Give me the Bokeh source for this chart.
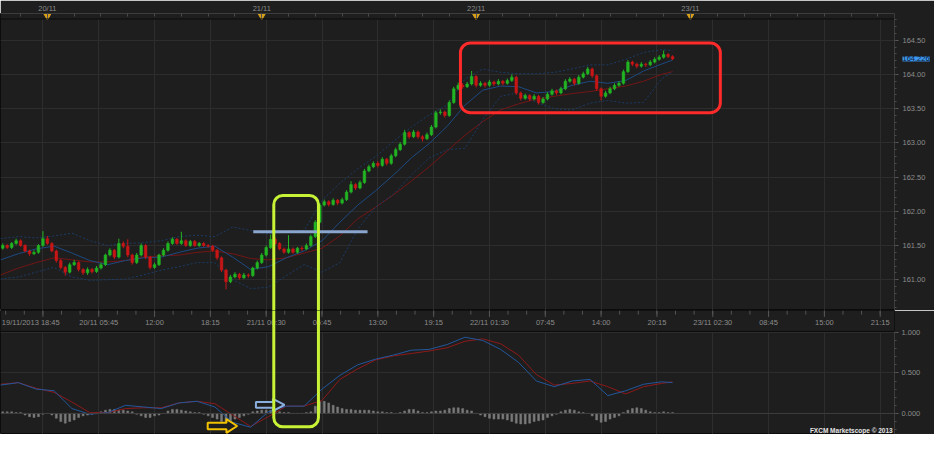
import numpy as np
import pandas as pd
from bokeh.plotting import figure
from bokeh.layouts import column
from bokeh.models import (Range1d, FixedTicker, BoxAnnotation, Label, Span, LinearAxis,
                          ColumnDataSource, NumeralTickFormatter)
from bokeh.core.properties import value
from bokeh.embed import file_html
from bokeh.resources import INLINE

# ------------------------------------------------------------------ data
chart_start = "2013-11-19 18:45"
first_bar = "2013-11-19 19:00"          # 30-minute bars

opens = [
    161.46, 161.50, 161.47, 161.53, 161.57, 161.50, 161.42, 161.38, 161.40, 161.50,
    161.60, 161.53, 161.42, 161.28, 161.18, 161.11, 161.22, 161.25, 161.15, 161.10,
    161.15, 161.12, 161.17, 161.22, 161.36, 161.43, 161.33, 161.53, 161.49, 161.36,
    161.25, 161.36, 161.50, 161.33, 161.18, 161.22, 161.36, 161.43, 161.53, 161.59,
    161.53, 161.57, 161.50, 161.56, 161.50, 161.53, 161.50, 161.49, 161.43, 161.32,
    161.14, 160.97, 161.04, 161.08, 161.03, 161.07, 161.06, 161.17, 161.25, 161.36,
    161.47, 161.59, 161.53, 161.45, 161.40, 161.45, 161.40, 161.46, 161.45, 161.50,
    161.63, 161.84, 162.09, 162.14, 162.10, 162.16, 162.12, 162.17, 162.28, 162.39,
    162.34, 162.42, 162.59, 162.65, 162.70, 162.67, 162.76, 162.70, 162.81, 162.90,
    162.98, 163.15, 163.09, 163.16, 163.09, 163.06, 163.12, 163.23, 163.44, 163.45,
    163.40, 163.59, 163.79, 163.84, 163.82, 163.86, 163.97, 163.84, 163.87, 163.84,
    163.89, 163.86, 163.90, 163.87, 163.91, 163.96, 163.73, 163.65, 163.69, 163.64,
    163.68, 163.59, 163.64, 163.71, 163.76, 163.73, 163.79, 163.90, 163.93, 163.87,
    163.96, 164.01, 164.08, 163.98, 163.79, 163.68, 163.73, 163.79, 163.84, 163.87,
    164.04, 164.18, 164.15, 164.12, 164.15, 164.14, 164.18, 164.22, 164.25, 164.29,
    164.26]
highs = [
    161.53, 161.52, 161.55, 161.60, 161.59, 161.52, 161.44, 161.43, 161.52, 161.71,
    161.64, 161.55, 161.44, 161.30, 161.20, 161.25, 161.29, 161.27, 161.17, 161.18,
    161.17, 161.20, 161.25, 161.38, 161.46, 161.45, 161.60, 161.56, 161.59, 161.38,
    161.39, 161.53, 161.52, 161.35, 161.25, 161.38, 161.46, 161.56, 161.62, 161.61,
    161.70, 161.59, 161.58, 161.58, 161.55, 161.55, 161.52, 161.51, 161.45, 161.34,
    161.16, 161.07, 161.11, 161.10, 161.10, 161.09, 161.19, 161.28, 161.39, 161.50,
    161.66, 161.62, 161.55, 161.47, 161.65, 161.47, 161.48, 161.49, 161.53, 161.66,
    161.87, 162.12, 162.17, 162.16, 162.19, 162.18, 162.20, 162.31, 162.44, 162.41,
    162.45, 162.62, 162.68, 162.73, 162.73, 162.79, 162.78, 162.84, 162.93, 163.01,
    163.19, 163.17, 163.19, 163.18, 163.11, 163.15, 163.26, 163.47, 163.49, 163.47,
    163.62, 163.82, 163.88, 163.87, 163.89, 164.05, 163.99, 163.90, 163.89, 163.92,
    163.91, 163.93, 163.92, 163.94, 164.00, 163.98, 163.75, 163.72, 163.71, 163.71,
    163.70, 163.67, 163.74, 163.79, 163.78, 163.82, 163.93, 163.96, 163.95, 163.99,
    164.04, 164.11, 164.10, 164.00, 163.81, 163.76, 163.82, 163.87, 163.90, 164.07,
    164.21, 164.20, 164.17, 164.18, 164.17, 164.21, 164.25, 164.28, 164.35, 164.31,
    164.28]
lows = [
    161.44, 161.45, 161.45, 161.51, 161.48, 161.40, 161.35, 161.36, 161.38, 161.48,
    161.51, 161.40, 161.25, 161.15, 161.06, 161.09, 161.20, 161.12, 161.07, 161.07,
    161.09, 161.10, 161.15, 161.20, 161.34, 161.30, 161.31, 161.46, 161.33, 161.22,
    161.23, 161.34, 161.30, 161.15, 161.16, 161.20, 161.34, 161.41, 161.51, 161.51,
    161.51, 161.48, 161.48, 161.48, 161.48, 161.48, 161.47, 161.41, 161.29, 161.11,
    160.86, 160.95, 161.02, 161.00, 161.01, 161.03, 161.04, 161.15, 161.23, 161.34,
    161.45, 161.51, 161.43, 161.38, 161.38, 161.38, 161.38, 161.42, 161.43, 161.48,
    161.61, 161.82, 162.07, 162.07, 162.08, 162.09, 162.10, 162.15, 162.26, 162.31,
    162.32, 162.40, 162.57, 162.63, 162.64, 162.65, 162.67, 162.68, 162.79, 162.88,
    162.96, 163.06, 163.07, 163.06, 163.02, 163.04, 163.10, 163.21, 163.41, 163.37,
    163.38, 163.57, 163.77, 163.79, 163.80, 163.84, 163.81, 163.82, 163.81, 163.82,
    163.83, 163.84, 163.84, 163.85, 163.89, 163.70, 163.62, 163.63, 163.61, 163.62,
    163.56, 163.57, 163.62, 163.69, 163.70, 163.71, 163.77, 163.88, 163.84, 163.85,
    163.94, 163.99, 163.95, 163.76, 163.62, 163.66, 163.71, 163.77, 163.82, 163.85,
    164.02, 164.12, 164.09, 164.10, 164.11, 164.12, 164.16, 164.20, 164.23, 164.24,
    164.21]
closes = [
    161.50, 161.47, 161.53, 161.57, 161.50, 161.42, 161.38, 161.40, 161.50, 161.60,
    161.53, 161.42, 161.28, 161.18, 161.11, 161.22, 161.25, 161.15, 161.10, 161.15,
    161.12, 161.17, 161.22, 161.36, 161.43, 161.33, 161.53, 161.49, 161.36, 161.25,
    161.36, 161.50, 161.33, 161.18, 161.22, 161.36, 161.43, 161.53, 161.59, 161.53,
    161.57, 161.50, 161.56, 161.50, 161.53, 161.50, 161.49, 161.43, 161.32, 161.14,
    160.97, 161.04, 161.08, 161.03, 161.07, 161.06, 161.17, 161.25, 161.36, 161.47,
    161.59, 161.53, 161.45, 161.40, 161.45, 161.40, 161.46, 161.45, 161.50, 161.63,
    161.84, 162.09, 162.14, 162.10, 162.16, 162.12, 162.17, 162.28, 162.39, 162.34,
    162.42, 162.59, 162.65, 162.70, 162.67, 162.76, 162.70, 162.81, 162.90, 162.98,
    163.15, 163.09, 163.16, 163.09, 163.06, 163.12, 163.23, 163.44, 163.45, 163.40,
    163.59, 163.79, 163.84, 163.82, 163.86, 163.97, 163.84, 163.87, 163.84, 163.89,
    163.86, 163.90, 163.87, 163.91, 163.96, 163.73, 163.65, 163.69, 163.64, 163.68,
    163.59, 163.64, 163.71, 163.76, 163.73, 163.79, 163.90, 163.93, 163.87, 163.96,
    164.01, 164.08, 163.98, 163.79, 163.68, 163.73, 163.79, 163.84, 163.87, 164.04,
    164.18, 164.15, 164.12, 164.15, 164.14, 164.18, 164.22, 164.25, 164.29, 164.26,
    164.226]
histogram = [
    0.02, 0.02, 0.02, 0.01, 0.01, -0.02, -0.04, -0.05, -0.04, -0.01,
    0.00, -0.02, -0.06, -0.10, -0.12, -0.10, -0.08, -0.05, -0.03, -0.02,
    -0.01, 0.01, 0.02, 0.04, 0.05, 0.05, 0.04, 0.04, 0.03, 0.02,
    -0.01, -0.03, -0.05, -0.05, -0.03, -0.02, 0.00, 0.03, 0.05, 0.05,
    0.04, 0.03, 0.02, 0.01, 0.01, -0.01, -0.03, -0.05, -0.07, -0.10,
    -0.10, -0.09, -0.07, -0.05, -0.03, -0.01, 0.02, 0.03, 0.04, 0.04,
    0.04, 0.03, 0.02, 0.01, 0.01, 0.00, 0.00, 0.00, 0.01, 0.02,
    0.09, 0.15, 0.15, 0.13, 0.10, 0.08, 0.06, 0.05, 0.05, 0.04,
    0.04, 0.04, 0.04, 0.03, 0.02, 0.02, 0.01, 0.01, 0.00, 0.01,
    0.03, 0.05, 0.05, 0.03, 0.01, 0.01, 0.02, 0.03, 0.03, 0.04,
    0.06, 0.07, 0.07, 0.06, 0.04, 0.03, 0.00, -0.02, -0.04, -0.06,
    -0.07, -0.07, -0.07, -0.08, -0.10, -0.12, -0.13, -0.13, -0.12, -0.10,
    -0.09, -0.08, -0.05, -0.03, -0.01, 0.02, 0.04, 0.05, 0.04, 0.02,
    0.01, 0.00, -0.03, -0.08, -0.11, -0.10, -0.07, -0.05, -0.03, 0.01,
    0.04, 0.06, 0.07, 0.06, 0.04, 0.02, 0.01, 0.01, 0.02, 0.01,
    0.01]

# indicator readings, every 2 hours after the chart start
ind_hours = [0, 2, 4, 6, 8, 10, 12, 14, 16, 18, 20, 22, 24, 26, 28, 30, 32, 34, 36, 38,
             40, 42, 44, 46, 48, 50, 52, 54, 56, 58, 60, 62, 64, 66, 68, 70, 72, 74, 75.25]
bb_upper = [161.60, 161.63, 161.61, 161.64, 161.68, 161.57, 161.50, 161.53, 161.54, 161.57,
            161.63, 161.65, 161.63, 161.77, 161.72, 161.67, 161.70, 161.72, 162.16, 162.41,
            162.62, 162.80, 163.02, 163.23, 163.41, 163.55, 163.93, 164.08, 164.03, 164.01,
            164.01, 164.03, 164.08, 164.14, 164.14, 164.22, 164.32, 164.36, 164.35]
bb_mid = [161.29, 161.38, 161.45, 161.49, 161.39, 161.28, 161.22, 161.28, 161.32, 161.33,
          161.40, 161.46, 161.49, 161.33, 161.15, 161.19, 161.32, 161.42, 161.57, 161.84,
          162.09, 162.30, 162.53, 162.78, 162.99, 163.24, 163.55, 163.77, 163.83, 163.82,
          163.73, 163.75, 163.84, 163.90, 163.87, 163.91, 164.05, 164.15, 164.21]
bb_lower = [161.01, 161.04, 161.11, 161.18, 161.04, 160.99, 161.00, 161.01, 161.07, 161.14,
            161.19, 161.25, 161.25, 161.00, 160.87, 160.89, 161.06, 161.22, 161.11, 161.25,
            161.74, 162.06, 162.25, 162.53, 162.78, 162.90, 162.92, 163.34, 163.68, 163.73,
            163.59, 163.50, 163.48, 163.58, 163.62, 163.58, 163.59, 163.93, 164.04]
ma_red = [161.07, 161.17, 161.25, 161.32, 161.29, 161.26, 161.26, 161.28, 161.33, 161.35,
          161.36, 161.40, 161.42, 161.38, 161.31, 161.29, 161.32, 161.39, 161.46, 161.64,
          161.89, 162.06, 162.24, 162.44, 162.65, 162.88, 163.11, 163.31, 163.48, 163.57,
          163.64, 163.68, 163.72, 163.75, 163.79, 163.83, 163.90, 164.00, 164.04]
osc_blue = [0.35, 0.38, 0.30, 0.28, 0.06, -0.01, 0.01, 0.10, 0.08, 0.06,
            0.13, 0.15, 0.08, -0.11, -0.17, 0.02, 0.09, 0.09, 0.30, 0.47,
            0.60, 0.67, 0.72, 0.78, 0.79, 0.85, 0.94, 0.90, 0.79, 0.63,
            0.40, 0.33, 0.40, 0.42, 0.22, 0.28, 0.36, 0.39, 0.38]
osc_red = [0.36, 0.38, 0.31, 0.26, 0.14, 0.01, 0.01, 0.06, 0.07, 0.07,
           0.13, 0.15, 0.12, -0.02, -0.16, -0.04, 0.09, 0.09, 0.16, 0.42,
           0.55, 0.66, 0.71, 0.74, 0.77, 0.81, 0.89, 0.92, 0.86, 0.72,
           0.48, 0.35, 0.37, 0.40, 0.33, 0.24, 0.33, 0.37, 0.39]

time_tick_hours = [11.0, 17.25, 23.5, 29.75, 36.0, 42.25, 48.5, 54.75,
                   61.0, 67.25, 73.5, 79.75, 86.0, 92.25, 98.5]
time_tick_labels = ["20/11 05:45", "12:00", "18:15", "21/11 00:30", "06:45", "13:00",
                    "19:15", "22/11 01:30", "07:45", "14:00", "20:15", "23/11 02:30",
                    "08:45", "15:00", "21:15"]
first_time_label = "19/11/2013 18:45"
day_hours = [5.25, 29.25, 53.25, 77.25]
day_labels = ["20/11", "21/11", "22/11", "23/11"]
price_ticks = [161.0, 161.5, 162.0, 162.5, 163.0, 163.5, 164.0, 164.5]
osc_ticks = [0.0, 0.5, 1.0]
last_price = 164.226
level_price = 161.70
level_hours = (28.3, 41.1)
watermark = "FXCM Marketscope © 2013"

# ------------------------------------------------------------------ style
BG = "#1e1e1e"
GRID = "#2d2d2d"
TXT = "#8c8c8c"
FONT = "Liberation Sans"
UP = "#22b422"
DOWN = "#c81616"
LIME = "#c8f236"
HILITE = "#3f98f0"

t0 = pd.Timestamp(chart_start)
bar_times = pd.date_range(first_bar, periods=len(closes), freq="30min")
bar_h = ((bar_times - t0) / pd.Timedelta(hours=1)).to_numpy()

o = np.array(opens)
c = np.array(closes)
src = ColumnDataSource(dict(
    x=bar_h, h=highs, l=lows,
    top=np.maximum(o, c), bot=np.minimum(o, c),
    col=np.where(c >= o, UP, DOWN)))

X_RANGE = Range1d(0, 100.1)
grid_hours = list(np.arange(4.75, 100.1, 6.25))


def style(fig):
    fig.background_fill_color = BG
    fig.border_fill_color = BG
    fig.outline_line_color = "#0c0c0c"
    fig.xgrid.ticker = FixedTicker(ticks=grid_hours)
    fig.xgrid.grid_line_color = GRID
    fig.ygrid.grid_line_color = GRID
    ya = fig.yaxis[0]
    ya.axis_line_color = "#3c3c3c"
    ya.major_tick_line_color = "#5a5a5a"
    ya.minor_tick_line_color = "#4a4a4a"
    ya.major_tick_in = 0
    ya.major_tick_out = 4
    ya.minor_tick_in = 0
    ya.minor_tick_out = 2
    ya.major_label_standoff = 3
    ya.major_label_text_color = TXT
    ya.major_label_text_font = FONT
    ya.major_label_text_font_size = "7.5px"


# ------------------------------------------------------------------ price panel
p = figure(width=934, height=310, x_range=X_RANGE, y_range=Range1d(160.55, 164.89),
           x_axis_location="above", y_axis_location="right",
           toolbar_location=None, output_backend="svg",
           min_border_left=0, min_border_right=40, min_border_top=0, min_border_bottom=0)
style(p)

xa = p.xaxis[0]
xa.ticker = FixedTicker(ticks=day_hours, minor_ticks=list(np.arange(2.25, 100.1, 3.0)))
xa.major_label_overrides = {h: lab for h, lab in zip(day_hours, day_labels)}
xa.axis_line_color = "#3c3c3c"
xa.major_tick_line_color = "#5a5a5a"
xa.minor_tick_line_color = "#4a4a4a"
xa.major_tick_in = 6
xa.major_tick_out = 0
xa.minor_tick_in = 3
xa.minor_tick_out = 0
xa.major_label_standoff = 1
xa.major_label_text_color = TXT
xa.major_label_text_font = FONT
xa.major_label_text_font_size = "7.5px"

# price scale: inner axis carries line + ticks, outer axis carries the labels
price_ticker = FixedTicker(ticks=price_ticks,
                           minor_ticks=list(np.round(np.arange(160.6, 164.85, 0.1), 2)))
ya = p.yaxis[0]
ya.ticker = price_ticker
ya.major_label_overrides = {t: "" for t in price_ticks}
ya.major_label_standoff = 0
p.ygrid.ticker = FixedTicker(ticks=price_ticks)

# highlighted last price
p.add_layout(Label(x=100.1, y=last_price, x_offset=8, text=f"{last_price:.3f}",
                   text_font=FONT, text_font_size="7.5px", text_color="#0a1a36",
                   text_baseline="middle", text_align="left",
                   background_fill_color=HILITE, background_fill_alpha=1), "right")

price_labels = LinearAxis(ticker=FixedTicker(ticks=price_ticks),
                          formatter=NumeralTickFormatter(format="0.00"),
                          axis_line_alpha=0, major_tick_line_alpha=0, minor_tick_line_alpha=0,
                          major_tick_in=0, major_tick_out=0, minor_tick_in=0, minor_tick_out=0,
                          major_label_standoff=-23, major_label_text_color=TXT,
                          major_label_text_font=FONT, major_label_text_font_size="7.5px")
p.add_layout(price_labels, "right")

# band under the top date axis
p.add_layout(BoxAnnotation(bottom=164.81, fill_color=BG, fill_alpha=1, line_alpha=0,
                           level="underlay"))
p.add_layout(Span(location=164.81, dimension="width", line_color="#0c0c0c", line_width=1))
p.scatter(day_hours, [164.855] * len(day_hours), marker="inverted_triangle", size=7,
          fill_color="#d8a01a", line_color="#d8a01a")

# indicators
p.line(ind_hours, ma_red, line_color="#741616", line_width=1)
p.line(ind_hours, bb_upper, line_color="#1b3c66", line_width=1, line_dash="2 2")
p.line(ind_hours, bb_lower, line_color="#1b3c66", line_width=1, line_dash="2 2")
p.line(ind_hours, bb_mid, line_color="#1d4a82", line_width=1)

# candles
p.segment(x0="x", y0="l", x1="x", y1="h", line_color="col", line_width=1, source=src)
p.vbar(x="x", width=0.3, top="top", bottom="bot", fill_color="col", line_color="col",
       line_width=0.5, source=src)

# annotations
p.segment(x0=[level_hours[0]], y0=[level_price], x1=[level_hours[1]], y1=[level_price],
          line_color="#8aa6cf", line_width=3)
p.add_layout(BoxAnnotation(left=30.6, right=35.6, top=162.23, bottom=150.0,
                           fill_alpha=0, line_color=LIME, line_alpha=1, line_width=3,
                           border_radius=9))
p.add_layout(BoxAnnotation(left=51.5, right=80.6, top=164.46, bottom=163.44,
                           fill_alpha=0, line_color="#ff2a2a", line_alpha=1, line_width=3,
                           border_radius=10))

# ------------------------------------------------------------------ oscillator panel
q = figure(width=934, height=124, x_range=X_RANGE, y_range=Range1d(-0.26, 1.27),
           x_axis_location=None, y_axis_location="right",
           toolbar_location=None, output_backend="svg",
           min_border_left=0, min_border_right=40, min_border_top=0, min_border_bottom=0)
style(q)
qa = q.yaxis[0]
qa.ticker = FixedTicker(ticks=osc_ticks,
                        minor_ticks=list(np.round(np.arange(-0.2, 1.01, 0.1), 2)))
qa.formatter = NumeralTickFormatter(format="0.000")
qa.bounds = (-0.26, 1.012)
q.ygrid.ticker = FixedTicker(ticks=osc_ticks)

# time-axis band at the top of the panel
q.add_layout(BoxAnnotation(bottom=1.012, fill_color=BG, fill_alpha=1, line_alpha=0,
                           level="underlay"))
q.add_layout(Span(location=1.012, dimension="width", line_color="#0c0c0c", line_width=1))
q.add_layout(Span(location=0.0, dimension="width", line_color="#3e3e3e", line_width=1))
minor_band = list(np.arange(0.58, 100.1, 6.25 / 3))
q.segment(x0=minor_band, y0=[1.27] * len(minor_band), x1=minor_band,
          y1=[1.22] * len(minor_band), line_color="#555555", line_width=1)
q.segment(x0=grid_hours, y0=[1.27] * len(grid_hours), x1=grid_hours,
          y1=[1.19] * len(grid_hours), line_color="#555555", line_width=1)
q.text(x=time_tick_hours, y=[1.12] * len(time_tick_hours), text=time_tick_labels,
       text_align="center", text_baseline="middle", text_font=value(FONT),
       text_font_size="7.5px", text_color=TXT)
q.text(x=[0.15], y=[1.12], text=[first_time_label], text_align="left",
       text_baseline="middle", text_font=value(FONT), text_font_size="7.5px", text_color=TXT)

q.vbar(x=bar_h, top=histogram, bottom=0, width=0.22, fill_color="#7a7a7a",
       line_color="#7a7a7a", line_width=0.5)
q.line(ind_hours, osc_red, line_color="#8e1a1a", line_width=1)
q.line(ind_hours, osc_blue, line_color="#22579c", line_width=1)


def arrow(x_tail, x_head, x_tip, yc, sh, hh):
    return ([x_tail, x_head, x_head, x_tip, x_head, x_head, x_tail],
            [yc + sh, yc + sh, yc + hh, yc, yc - hh, yc - sh, yc - sh])


ax, ay = arrow(28.6, 30.5, 31.8, 0.105, 0.035, 0.075)
q.patch(ax, ay, fill_color=BG, line_color="#8aaede", line_width=2)
ax, ay = arrow(23.2, 25.3, 26.5, -0.155, 0.04, 0.085)
q.patch(ax, ay, fill_color=BG, line_color="#f2c200", line_width=2)

q.add_layout(BoxAnnotation(left=30.6, right=35.6, top=10.0, bottom=-0.165,
                           fill_alpha=0, line_color=LIME, line_alpha=1, line_width=3,
                           border_radius=9))
q.text(x=[99.9], y=[-0.205], text=[watermark], text_align="right", text_baseline="middle",
       text_font=value(FONT), text_font_style="bold", text_font_size="6.5px",
       text_color="#e4e4e4")

layout = column(p, q, spacing=0)
open("out.html", "w").write(file_html(layout, INLINE))
